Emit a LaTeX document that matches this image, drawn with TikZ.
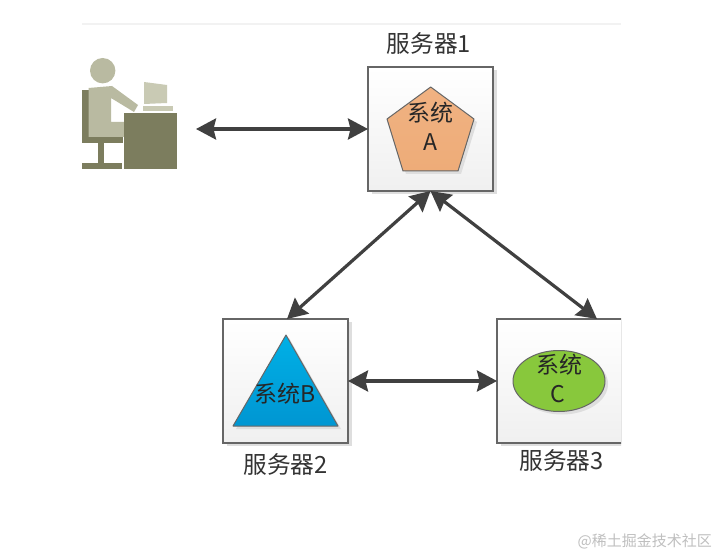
\documentclass[tikz,border=0pt]{standalone}
\usepackage{fontspec}
\setmainfont{Liberation Sans}
\newfontfamily\cjk{Noto Sans CJK SC}
\usetikzlibrary{arrows.meta}
\definecolor{ink}{HTML}{333333}
\definecolor{arrowgray}{HTML}{404040}
\definecolor{edgegray}{HTML}{666666}
\definecolor{shadowgray}{HTML}{DEDEDE}
\definecolor{darkolive}{HTML}{7C7D5E}
\definecolor{midolive}{HTML}{B9BAA1}
\definecolor{lightolive}{HTML}{C9CAB4}
\tikzset{
  serverbox/.style={draw=edgegray,line width=1.2pt,top color=white,bottom color=black!6,
    minimum width=125pt,minimum height=124pt,inner sep=0pt,outer sep=0pt},
  boxshadow/.style={fill=shadowgray,draw=none,minimum width=125pt,minimum height=124pt,inner sep=0pt,outer sep=0pt},
  shapeline/.style={draw=edgegray,line width=1pt,line join=round},
  shapeshadow/.style={fill=shadowgray,draw=none},
  twoway/.style={draw=arrowgray,line width=3.2pt,
    {Stealth[length=20pt,width=21pt,inset=2.5pt]}-{Stealth[length=20pt,width=21pt,inset=2.5pt]}},
  label/.style={font=\cjk\fontsize{23.7}{26}\selectfont,text=ink,inner sep=0pt},
  inner/.style={font=\cjk\fontsize{23}{25}\selectfont,text=black!85,inner sep=0pt},
  mark text/.style={font=\cjk\fontsize{15}{17}\selectfont,text=black!25,inner sep=0pt}
}
\begin{document}
\begin{tikzpicture}[x=1pt,y=-1pt]
\useasboundingbox (0,0) rectangle (718,556);
\fill[white] (0,0) rectangle (718,556);
% top rule
\draw[black!5,line width=2pt] (82,24) -- (621,24);
% user figure
\fill[darkolive] (82,90) rectangle (89,143);
\fill[darkolive] (82,137) rectangle (123,143);
\fill[darkolive] (98,143) rectangle (104,164);
\fill[darkolive] (82,163) rectangle (122,169);
\fill[midolive] (88.5,88) -- (112,86) -- (138,105) -- (134,112) -- (111,98) -- (111,122) -- (124,122) -- (124,137) -- (88.5,137) -- cycle;
\fill[midolive] (102.7,70.7) circle (12.7);
\fill[darkolive] (124,113) rectangle (177,169);
\fill[lightolive] (144,82) -- (167,85) -- (167,103) -- (144,104) -- cycle;
\fill[lightolive] (143,106) rectangle (173,111);
\coordinate (user) at (196,129);
% server boxes
\node[boxshadow] at (434,132) {};
\node[serverbox] (A) at (430.5,129) {};
\node[boxshadow] at (289,384) {};
\node[serverbox] (B) at (285.5,381) {};
\begin{scope}
\clip (480,300) rectangle (621,460);
\node[boxshadow] at (563,384) {};
\node[serverbox] (C) at (559.5,381) {};
\end{scope}
\coordinate (Cin) at (597,319);
\coordinate (Bin) at (287,319);
% pentagon
\fill[shapeshadow] (433,90) -- (477,122) -- (461,174) -- (406,174) -- (390,122) -- cycle;
\draw[shapeline,top color={rgb,255:red,240;green,178;blue,130},bottom color={rgb,255:red,238;green,172;blue,120}]
  (430.7,87) -- (474,119) -- (458,171) -- (403,171) -- (387,119) -- cycle;
\node[inner] (sysA1) at (430,113) {系统};
\node[inner] (sysA2) at (430,142) {A};
% triangle
\fill[shapeshadow] (289,338) -- (341,429) -- (236,429) -- cycle;
\draw[shapeline,top color={rgb,255:red,0;green,176;blue,230},bottom color={rgb,255:red,0;green,150;blue,210}]
  (286,335) -- (338,426) -- (233,426) -- cycle;
\node[inner] (sysB) at (285,394) {系统B};
% ellipse
\fill[shapeshadow] (562,384) ellipse [x radius=46,y radius=30.5];
\draw[shapeline,fill={rgb,255:red,136;green,200;blue,60}] (559,381) ellipse [x radius=46,y radius=30.5];
\node[inner] (sysC1) at (559,365) {系统};
\node[inner] (sysC2) at (558,394) {C};
% captions
\node[label] (cap1) at (429,43) {服务器1};
\node[label] (cap2) at (285.5,464) {服务器2};
\node[label] (cap3) at (561.5,460) {服务器3};
% connectors
\draw[twoway] (user) -- (A.west);
\draw[twoway] (A.south) -- (Bin);
\draw[twoway] (A.south) -- (Cin);
\draw[twoway] (B.east) -- (C.west);
% watermark
\node[mark text,anchor=east] (mark) at (712,541) {@稀土掘金技术社区};
\end{tikzpicture}
\end{document}
